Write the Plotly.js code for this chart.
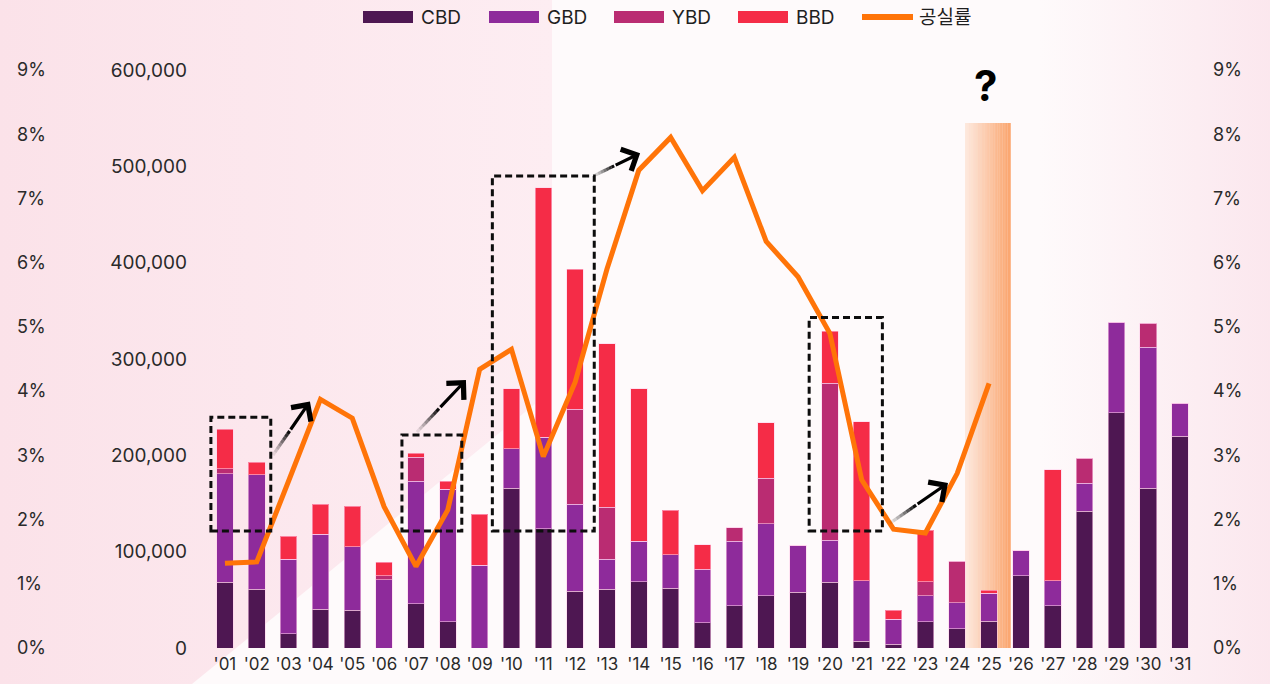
<!DOCTYPE html>
<html>
<head>
<meta charset="utf-8">
<script src="https://cdn.plot.ly/plotly-3.0.1.min.js"></script>
<style>
  html, body { margin: 0; padding: 0; width: 1270px; height: 684px; overflow: hidden; background: #fefafb; }
  #wash { position: absolute; left: 0; top: 0; width: 1270px; height: 684px;
          background: linear-gradient(to left, rgba(251,230,237,0.95) 0px, rgba(251,230,237,0) 230px); }
  #pink { position: absolute; left: 0; top: 0; width: 552px; height: 684px;
          background: linear-gradient(to right, #fbe2e9 0%, #fdedf2 100%);
          clip-path: polygon(0 0, 552px 0, 552px 390px, 192px 684px, 0 684px); }
  #chart { position: absolute; left: 0; top: 0; width: 1270px; height: 684px; }
</style>
</head>
<body>
<div id="wash"></div>
<div id="pink"></div>
<div id="chart"></div>
<script>
// Office supply by business district (stacked bars) and vacancy rate (line)
const years = ["'01","'02","'03","'04","'05","'06","'07","'08","'09","'10",
               "'11","'12","'13","'14","'15","'16","'17","'18","'19","'20",
               "'21","'22","'23","'24","'25","'26","'27","'28","'29","'30","'31"];

const cbd = [68000, 61000, 15000, 40000, 39000, 0, 46000, 27000, 0, 166000,
             124000, 59000, 61000, 69000, 62000, 26000, 44000, 54000, 58000, 68000,
             7000, 4000, 27000, 20000, 28000, 75000, 44000, 142000, 244000, 166000, 220000];
const gbd = [113000, 119000, 77000, 78000, 66000, 71000, 127000, 138000, 86000, 41000,
             95000, 90000, 31000, 42000, 35000, 55000, 67000, 75000, 48000, 44000,
             63000, 26000, 27000, 27000, 29000, 26000, 26000, 29000, 94000, 146000, 34000];
const ybd = [5000, 0, 0, 0, 0, 4000, 25000, 0, 0, 0,
             0, 99000, 54000, 0, 0, 1000, 14000, 47000, 0, 163000,
             0, 0, 15000, 43000, 0, 0, 0, 26000, 0, 25000, 0];
const bbd = [41000, 13000, 24000, 31000, 42000, 14000, 4000, 8000, 53000, 62000,
             259000, 145000, 170000, 158000, 46000, 25000, 0, 58000, 0, 54000,
             165000, 9000, 53000, 0, 3000, 0, 115000, 0, 0, 0, 0];

// vacancy rate (%), '01 – '25
const vacancy = [1.32, 1.34, 2.60, 3.87, 3.58, 2.20, 1.27, 2.15, 4.34, 4.65,
                 2.98, 4.14, 5.90, 7.44, 7.95, 7.12, 7.64, 6.33, 5.78, 4.90,
                 2.62, 1.85, 1.79, 2.72, 4.12];

const seriesNames = ['CBD', 'GBD', 'YBD', 'BBD'];
const lineName = '공실률';

const colors = { CBD: '#4e1752', GBD: '#8e2b9b', YBD: '#ba2c72', BBD: '#f52c47', line: '#ff7408' };
const FONT = "Inter, 'Noto Sans CJK KR', 'Noto Sans', sans-serif";
const W = 1270, H = 684;
const px = v => v / W;
const py = v => 1 - v / H;

const seriesData = { CBD: cbd, GBD: gbd, YBD: ybd, BBD: bbd };

const traces = seriesNames.map(name => ({
  type: 'bar',
  name: name,
  x: years,
  y: seriesData[name],
  marker: { color: colors[name], line: { color: 'rgba(255,205,235,0.55)', width: 1 } },
  showlegend: false,
  hovertemplate: name + ' %{x}: %{y:,}<extra></extra>'
}));

traces.push({
  type: 'scatter',
  mode: 'lines',
  name: lineName,
  x: years.slice(0, vacancy.length),
  y: vacancy,
  yaxis: 'y2',
  line: { color: colors.line, width: 5 },
  showlegend: false,
  hovertemplate: lineName + ' %{x}: %{y}%<extra></extra>'
});

// keeps the far-left percent scale attached to the plot
traces.push({
  type: 'scatter', mode: 'lines', x: [years[0]], y: [0], yaxis: 'y3',
  line: { width: 0 }, showlegend: false, hoverinfo: 'skip'
});

const shapes = [];
const annotations = [];

// highlighted forecast column at '25 (horizontal fade built from thin strips)
const hiIdx = years.indexOf("'25");
const hiLeft = hiIdx - 0.755, hiRight = hiIdx + 0.68, hiTop = 545000;
const strips = 28;
for (let i = 0; i < strips; i++) {
  const t = i / (strips - 1);
  shapes.push({
    type: 'rect', xref: 'x', yref: 'y', layer: 'below',
    x0: hiLeft + (hiRight - hiLeft) * i / strips,
    x1: hiLeft + (hiRight - hiLeft) * (i + 1) / strips + 0.002,
    y0: -3000, y1: hiTop,
    fillcolor: 'rgb(250,152,88)', opacity: 0.18 + 0.7 * Math.pow(t, 1.1),
    line: { width: 0 }
  });
}

// dashed boxes around supply waves
const boxes = [
  { from: "'01", to: "'02", pad: 0.44, lo: 121500, hi: 239500 },
  { from: "'07", to: "'08", pad: 0.44, lo: 121500, hi: 221000 },
  { from: "'10", to: "'12", pad: 0.6,  lo: 121500, hi: 490000 },
  { from: "'20", to: "'21", pad: 0.65, lo: 121500, hi: 343000 }
];
boxes.forEach(b => {
  shapes.push({
    type: 'rect', xref: 'x', yref: 'y', layer: 'above',
    x0: years.indexOf(b.from) - b.pad, x1: years.indexOf(b.to) + b.pad,
    y0: b.lo, y1: b.hi,
    line: { color: '#0d0d0d', width: 3, dash: '7px,4px' },
    fillcolor: 'rgba(0,0,0,0)'
  });
});

// arrows pointing from each box to the following vacancy rise (fading tails)
const arrows = [
  { x0: 1.51, y0: 200300, x1: 2.67, y1: 255800 },
  { x0: 6.03, y0: 224100, x1: 7.57, y1: 278100 },
  { x0: 11.56, y0: 489800, x1: 13.04, y1: 513600 },
  { x0: 20.89, y0: 129700, x1: 22.71, y1: 171200 }
];
const solidFrom = 0.45, tailSteps = 8;
arrows.forEach(a => {
  const at = t => [a.x0 + (a.x1 - a.x0) * t, a.y0 + (a.y1 - a.y0) * t];
  for (let i = 0; i < tailSteps; i++) {
    const p = at(solidFrom * i / tailSteps), q = at(solidFrom * (i + 1) / tailSteps);
    shapes.push({
      type: 'line', xref: 'x', yref: 'y', layer: 'above',
      x0: p[0], y0: p[1], x1: q[0], y1: q[1],
      line: { color: 'rgba(0,0,0,' + (0.03 + 0.92 * Math.pow((i + 1) / tailSteps, 1.3)).toFixed(3) + ')', width: 3.2 }
    });
  }
  const m = at(solidFrom);
  annotations.push({
    xref: 'x', yref: 'y', axref: 'x', ayref: 'y',
    x: a.x1, y: a.y1, ax: m[0], ay: m[1],
    text: '', showarrow: true, arrowhead: 4, arrowsize: 1.45, arrowwidth: 3.2,
    arrowcolor: '#000', standoff: 0, startstandoff: 0
  });
});

annotations.push({
  xref: 'x', yref: 'y', x: hiIdx - 0.1, y: 584000, text: '?', showarrow: false,
  font: { family: FONT, size: 42, color: '#000', weight: 700 }
});

// legend row
const legendX = [363, 489, 614, 738];
const swW = 50;
seriesNames.forEach((name, i) => {
  shapes.push({
    type: 'rect', xref: 'paper', yref: 'paper',
    x0: px(legendX[i]), x1: px(legendX[i] + swW), y0: py(23), y1: py(11),
    fillcolor: colors[name], line: { width: 0 }
  });
  annotations.push({
    xref: 'paper', yref: 'paper', x: px(legendX[i] + swW + 6), y: py(17),
    xanchor: 'left', yanchor: 'middle', text: name, showarrow: false,
    font: { family: FONT, size: 19, color: '#1f1f1f' }
  });
});
shapes.push({
  type: 'line', xref: 'paper', yref: 'paper',
  x0: px(862), x1: px(913), y0: py(17), y1: py(17),
  line: { color: colors.line, width: 6 }
});
annotations.push({
  xref: 'paper', yref: 'paper', x: px(917), y: py(17),
  xanchor: 'left', yanchor: 'middle', text: lineName, showarrow: false,
  font: { family: FONT, size: 19, color: '#1f1f1f' }
});

const tickFont = { family: FONT, size: 19, color: '#2a2a2a' };
const pctFont = { family: FONT, size: 18, color: '#2a2a2a' };

const layout = {
  width: W, height: H,
  margin: { l: 0, r: 0, t: 0, b: 0 },
  paper_bgcolor: 'rgba(0,0,0,0)',
  plot_bgcolor: 'rgba(0,0,0,0)',
  barmode: 'stack',
  bargap: 0.48,
  showlegend: false,
  xaxis: {
    domain: [px(209), px(1196)],
    type: 'category', categoryorder: 'array', categoryarray: years,
    showgrid: false, zeroline: false, showline: false, ticks: '',
    tickfont: { family: FONT, size: 17, color: '#2a2a2a' },
    ticklabelstandoff: 4, tickangle: 0, fixedrange: true
  },
  yaxis: {
    domain: [1 - 648 / H, 1 - 70 / H],
    range: [0, 600000], dtick: 100000, tickformat: ',d',
    showgrid: false, zeroline: false, showline: false, ticks: '',
    tickfont: tickFont, ticklabelstandoff: 21, fixedrange: true
  },
  yaxis2: {
    overlaying: 'y', side: 'right', anchor: 'x',
    range: [0, 9], dtick: 1, ticksuffix: '%',
    showgrid: false, zeroline: false, showline: false, ticks: '',
    tickfont: pctFont, ticklabelstandoff: 16, fixedrange: true
  },
  yaxis3: {
    overlaying: 'y', side: 'right', anchor: 'free', position: px(16),
    range: [0, 9], dtick: 1, ticksuffix: '%',
    showgrid: false, zeroline: false, showline: false, ticks: '',
    tickfont: pctFont, fixedrange: true
  },
  shapes: shapes,
  annotations: annotations
};

Plotly.newPlot('chart', traces, layout, { displayModeBar: false, staticPlot: true });
</script>
</body>
</html>
